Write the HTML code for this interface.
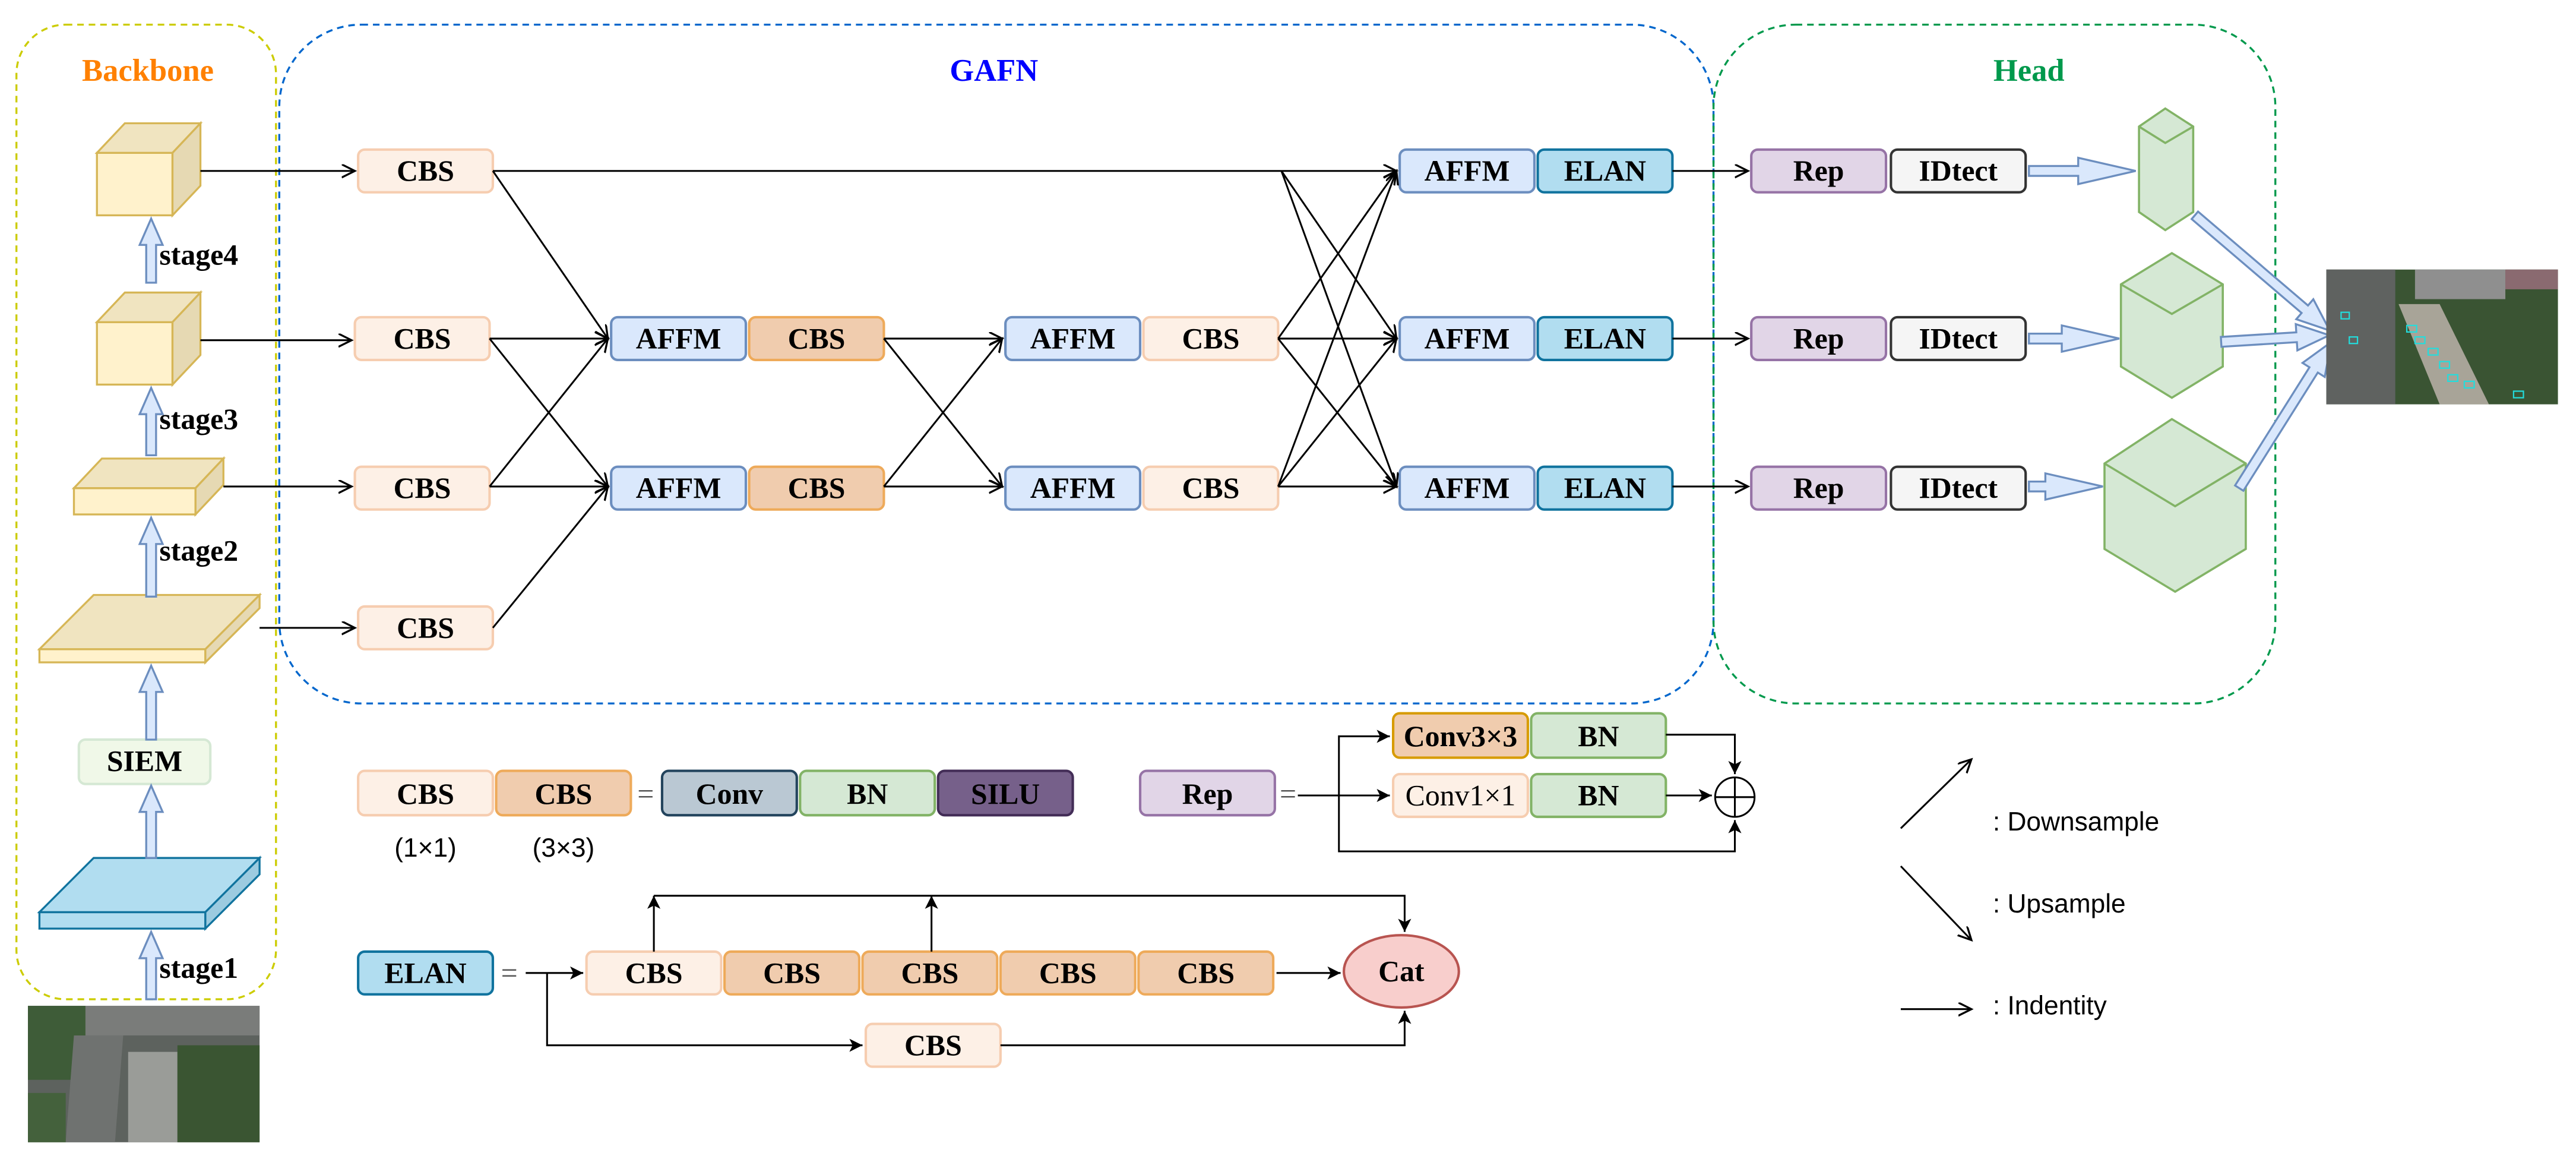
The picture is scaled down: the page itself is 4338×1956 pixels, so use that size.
<!DOCTYPE html>
<html><head><meta charset="utf-8"><style>
html,body{margin:0;padding:0;background:#fff;}
svg{display:block;}
text{font-family:"Liberation Serif",serif;font-weight:bold;font-size:18px;text-anchor:middle;dominant-baseline:central;fill:#000;}
.s{font-family:"Liberation Sans",sans-serif;font-weight:normal;text-anchor:start;font-size:16px;}
</style></head><body>
<svg width="4338" height="1956" viewBox="0 0 1568 707" xmlns="http://www.w3.org/2000/svg">
<defs>
<marker id="a" markerWidth="10" markerHeight="10" refX="8" refY="4" orient="auto" markerUnits="userSpaceOnUse"><path d="M0,0 L8,4 L0,8" fill="none" stroke="#000" stroke-width="1.2"/></marker>
<marker id="f" markerWidth="10" markerHeight="10" refX="8" refY="4" orient="auto" markerUnits="userSpaceOnUse"><path d="M0,0 L8,4 L0,8 L2,4Z" fill="#000"/></marker>
</defs>
<rect x="10" y="15" width="158" height="593" rx="30" fill="none" stroke="#cccc00" stroke-dasharray="4,3" stroke-width="1.2"/>
<rect x="170" y="15" width="873" height="413" rx="50" fill="none" stroke="#0066cc" stroke-dasharray="4,3" stroke-width="1.2"/>
<rect x="1043" y="15" width="342" height="413" rx="50" fill="none" stroke="#00994c" stroke-dasharray="4,3" stroke-width="1.2"/>
<text x="90" y="43" style="fill:#ff8000;font-size:19px">Backbone</text>
<text x="605" y="43" style="fill:#0000ff;font-size:19px">GAFN</text>
<text x="1235" y="43" style="fill:#00994c;font-size:19px">Head</text>

<g stroke="#d6b656" stroke-width="1.2">
<rect x="59" y="93" width="46" height="38" fill="#fff2cc"/>
<polygon points="59,93 76,75 122,75 105,93" fill="#f0e4c0"/>
<polygon points="105,93 122,75 122,113 105,131" fill="#e6d9b3"/>
<rect x="59" y="196" width="46" height="38" fill="#fff2cc"/>
<polygon points="59,196 76,178 122,178 105,196" fill="#f0e4c0"/>
<polygon points="105,196 122,178 122,216 105,234" fill="#e6d9b3"/>
<rect x="45" y="297" width="74" height="16" fill="#fff2cc"/>
<polygon points="45,297 62,279 136,279 119,297" fill="#f0e4c0"/>
<polygon points="119,297 136,279 136,295 119,313" fill="#e6d9b3"/>
<rect x="24" y="395" width="101" height="8" fill="#fff2cc"/>
<polygon points="24,395 57,362 158,362 125,395" fill="#f0e4c0"/>
<polygon points="125,395 158,362 158,370 125,403" fill="#e6d9b3"/>
</g>
<g stroke="#10739e" stroke-width="1.2">
<rect x="24" y="555" width="101" height="10" fill="#b1ddf0"/>
<polygon points="24,555 57,522 158,522 125,555" fill="#b1ddf0"/>
<polygon points="125,555 158,522 158,532 125,565" fill="#9ccbe0"/>
</g>
<rect x="48" y="450" width="80" height="27" rx="4" fill="#f0f8e8" stroke="#d5e8d4" stroke-width="1.5"/>
<text x="88" y="463">SIEM</text>
<g fill="#dae8fc" stroke="#6c8ebf" stroke-width="1.2">
<polygon points="89,608 89,583 85,583 92,567 99,583 95,583 95,608"/>
<polygon points="89,522 89,494 85,494 92,478 99,494 95,494 95,522"/>
<polygon points="89,450 89,421 85,421 92,405 99,421 95,421 95,450"/>
<polygon points="89,363 89,331 85,331 92,315 99,331 95,331 95,363"/>
<polygon points="89,277 89,252 85,252 92,236 99,252 95,252 95,277"/>
<polygon points="89,172 89,149 85,149 92,133 99,149 95,149 95,172"/>
</g>
<text x="121" y="155">stage4</text>
<text x="121" y="255">stage3</text>
<text x="121" y="335">stage2</text>
<text x="121" y="589">stage1</text>
<g>
<rect x="17" y="612" width="141" height="83" fill="#5d625e"/>
<rect x="17" y="612" width="141" height="18" fill="#7a7c7a"/>
<rect x="17" y="612" width="35" height="45" fill="#3e5c38"/>
<polygon points="45,630 75,630 70,695 40,695" fill="#6f7270"/>
<rect x="78" y="640" width="30" height="55" fill="#9a9c98"/>
<rect x="108" y="636" width="50" height="59" fill="#3a5532"/>
<rect x="17" y="665" width="23" height="30" fill="#44613c"/>
</g>

<g stroke-width="1.5">
<g fill="#fdf0e6" stroke="#f6cdb0">
<rect x="218" y="91" width="82" height="26" rx="4"/>
<rect x="216" y="193" width="82" height="26" rx="4"/>
<rect x="216" y="284" width="82" height="26" rx="4"/>
<rect x="218" y="369" width="82" height="26" rx="4"/>
<rect x="696" y="193" width="82" height="26" rx="4"/>
<rect x="696" y="284" width="82" height="26" rx="4"/>
<rect x="218" y="469" width="82" height="27" rx="4"/>
<rect x="848" y="471" width="82" height="26" rx="4"/>
<rect x="357" y="579" width="82" height="26" rx="4"/>
<rect x="527" y="623" width="82" height="26" rx="4"/>
</g>
<g fill="#f0ccae" stroke="#eeaa5a">
<rect x="456" y="193" width="82" height="26" rx="4"/>
<rect x="456" y="284" width="82" height="26" rx="4"/>
<rect x="302" y="469" width="82" height="27" rx="4"/>
<rect x="441" y="579" width="82" height="26" rx="4"/>
<rect x="525" y="579" width="82" height="26" rx="4"/>
<rect x="609" y="579" width="82" height="26" rx="4"/>
<rect x="693" y="579" width="82" height="26" rx="4"/>
</g>
<rect x="848" y="434" width="82" height="27" rx="4" fill="#f0ccae" stroke="#d79b00"/>
<g fill="#dae8fc" stroke="#6c8ebf">
<rect x="372" y="193" width="82" height="26" rx="4"/>
<rect x="372" y="284" width="82" height="26" rx="4"/>
<rect x="612" y="193" width="82" height="26" rx="4"/>
<rect x="612" y="284" width="82" height="26" rx="4"/>
<rect x="852" y="91" width="82" height="26" rx="4"/>
<rect x="852" y="193" width="82" height="26" rx="4"/>
<rect x="852" y="284" width="82" height="26" rx="4"/>
</g>
<g fill="#b1ddf0" stroke="#10739e">
<rect x="936" y="91" width="82" height="26" rx="4"/>
<rect x="936" y="193" width="82" height="26" rx="4"/>
<rect x="936" y="284" width="82" height="26" rx="4"/>
<rect x="218" y="579" width="82" height="26" rx="4"/>
</g>
<g fill="#e1d5e7" stroke="#9673a6">
<rect x="1066" y="91" width="82" height="26" rx="4"/>
<rect x="1066" y="193" width="82" height="26" rx="4"/>
<rect x="1066" y="284" width="82" height="26" rx="4"/>
<rect x="694" y="469" width="82" height="27" rx="4"/>
</g>
<g fill="#f5f5f5" stroke="#333">
<rect x="1151" y="91" width="82" height="26" rx="4"/>
<rect x="1151" y="193" width="82" height="26" rx="4"/>
<rect x="1151" y="284" width="82" height="26" rx="4"/>
</g>
<rect x="403" y="469" width="82" height="27" rx="4" fill="#bac8d3" stroke="#23445d"/>
<g fill="#d5e8d4" stroke="#82b366">
<rect x="487" y="469" width="82" height="27" rx="4"/>
<rect x="932" y="434" width="82" height="27" rx="4"/>
<rect x="932" y="471" width="82" height="26" rx="4"/>
</g>
<rect x="571" y="469" width="82" height="27" rx="4" fill="#76608a" stroke="#432d57"/>
<ellipse cx="853" cy="591" rx="35" ry="22" fill="#f8cecc" stroke="#b85450"/>
</g>
<text x="259" y="104">CBS</text><text x="257" y="206">CBS</text><text x="257" y="297">CBS</text><text x="259" y="382">CBS</text>
<text x="413" y="206">AFFM</text><text x="497" y="206">CBS</text>
<text x="413" y="297">AFFM</text><text x="497" y="297">CBS</text>
<text x="653" y="206">AFFM</text><text x="737" y="206">CBS</text>
<text x="653" y="297">AFFM</text><text x="737" y="297">CBS</text>
<text x="893" y="104">AFFM</text><text x="977" y="104">ELAN</text>
<text x="893" y="206">AFFM</text><text x="977" y="206">ELAN</text>
<text x="893" y="297">AFFM</text><text x="977" y="297">ELAN</text>
<text x="1107" y="104">Rep</text><text x="1192" y="104">IDtect</text>
<text x="1107" y="206">Rep</text><text x="1192" y="206">IDtect</text>
<text x="1107" y="297">Rep</text><text x="1192" y="297">IDtect</text>
<text x="259" y="483">CBS</text><text x="343" y="483">CBS</text><text x="393" y="483" style="font-weight:normal;fill:#555">=</text>
<text x="444" y="483">Conv</text><text x="528" y="483">BN</text><text x="612" y="483">SILU</text>
<text x="259" y="516" style="font-family:'Liberation Sans',sans-serif;font-weight:normal;font-size:16px">(1×1)</text>
<text x="343" y="516" style="font-family:'Liberation Sans',sans-serif;font-weight:normal;font-size:16px">(3×3)</text>
<text x="735" y="483">Rep</text><text x="784" y="483" style="font-weight:normal;fill:#555">=</text>
<text x="889" y="448">Conv3×3</text><text x="973" y="448">BN</text>
<text x="889" y="484" style="font-weight:normal">Conv1×1</text><text x="973" y="484">BN</text>
<text x="259" y="592">ELAN</text><text x="310" y="592" style="font-weight:normal;fill:#555">=</text>
<text x="398" y="592">CBS</text><text x="482" y="592">CBS</text><text x="566" y="592">CBS</text><text x="650" y="592">CBS</text><text x="734" y="592">CBS</text>
<text x="568" y="636">CBS</text><text x="853" y="591">Cat</text>

<g stroke="#000" stroke-width="1.1" fill="none" marker-end="url(#a)">
<line x1="122" y1="104" x2="216" y2="104"/>
<line x1="122" y1="207" x2="214" y2="207"/>
<line x1="136" y1="296" x2="214" y2="296"/>
<line x1="158" y1="382" x2="216" y2="382"/>
<line x1="300" y1="104" x2="850" y2="104"/>
<line x1="300" y1="104" x2="370" y2="206"/>
<line x1="298" y1="206" x2="370" y2="206"/>
<line x1="298" y1="206" x2="370" y2="296"/>
<line x1="298" y1="296" x2="370" y2="206"/>
<line x1="298" y1="296" x2="370" y2="296"/>
<line x1="300" y1="382" x2="370" y2="296"/>
<line x1="538" y1="206" x2="610" y2="206"/>
<line x1="538" y1="206" x2="610" y2="296"/>
<line x1="538" y1="296" x2="610" y2="206"/>
<line x1="538" y1="296" x2="610" y2="296"/>
<line x1="780" y1="104" x2="850" y2="206"/>
<line x1="780" y1="104" x2="850" y2="296"/>
<line x1="778" y1="206" x2="850" y2="104"/>
<line x1="778" y1="206" x2="850" y2="206"/>
<line x1="778" y1="206" x2="850" y2="296"/>
<line x1="778" y1="296" x2="850" y2="104"/>
<line x1="778" y1="296" x2="850" y2="206"/>
<line x1="778" y1="296" x2="850" y2="296"/>
<line x1="1018" y1="104" x2="1064" y2="104"/>
<line x1="1018" y1="206" x2="1064" y2="206"/>
<line x1="1018" y1="296" x2="1064" y2="296"/>
<line x1="1157" y1="504" x2="1200" y2="462"/>
<line x1="1157" y1="527" x2="1200" y2="572"/>
<line x1="1157" y1="614" x2="1200" y2="614"/>
</g>
<g stroke="#000" stroke-width="1.1" fill="none" marker-end="url(#f)">
<line x1="790" y1="484" x2="846" y2="484"/>
<polyline points="815,484 815,448 846,448"/>
<polyline points="1014,447 1056,447 1056,471"/>
<line x1="1014" y1="484" x2="1042" y2="484"/>
<polyline points="815,484 815,518 1056,518 1056,499"/>
<line x1="320" y1="592" x2="355" y2="592"/>
<line x1="777" y1="592" x2="816" y2="592"/>
<polyline points="398,579 398,545"/>
<polyline points="567,579 567,545"/>
<polyline points="398,545 855,545 855,567"/>
<polyline points="333,592 333,636 525,636"/>
<polyline points="609,636 855,636 855,615"/>
</g>
<circle cx="1056" cy="485" r="12" fill="#fff" stroke="#000" stroke-width="1.1"/>
<line x1="1044" y1="485" x2="1068" y2="485" stroke="#000" stroke-width="1.1"/>
<line x1="1056" y1="473" x2="1056" y2="497" stroke="#000" stroke-width="1.1"/>
<text class="s" x="1213" y="500">:  Downsample</text>
<text class="s" x="1213" y="550">:  Upsample</text>
<text class="s" x="1213" y="612">:  Indentity</text>

<g fill="#d5e8d4" stroke="#82b366" stroke-width="1.3">
<polygon points="1302,77 1318,66 1335,77 1335,129 1318,140 1302,129"/>
<polyline points="1302,77 1318,87 1335,77 M1318,87 1318,140" fill="none"/>
<polygon points="1291,173 1322,154 1353,173 1353,223 1322,242 1291,223"/>
<polyline points="1291,173 1322,191 1353,173 M1322,191 1322,242" fill="none"/>
<polygon points="1281,282 1322,255 1367,282 1367,334 1324,360 1281,334"/>
<polyline points="1281,282 1324,308 1367,282 M1324,308 1324,360" fill="none"/>
</g>
<g fill="#dae8fc" stroke="#6c8ebf" stroke-width="1.2">
<polygon points="1235,101 1265,101 1265,96 1300,104 1265,112 1265,107 1235,107"/>
<polygon points="1235,203 1255,203 1255,198 1290,206 1255,214 1255,209 1235,209"/>
<polygon points="1235,293 1245,293 1245,288 1280,296 1245,304 1245,299 1235,299"/>
<g transform="translate(1336,131) rotate(40.5)"><polygon points="0,-3 88,-3 88,-8 108,0 88,8 88,3 0,3"/></g>
<g transform="translate(1352,208) rotate(-3.5)"><polygon points="0,-3 46,-3 46,-8 66,0 46,8 46,3 0,3"/></g>
<g transform="translate(1363,297) rotate(-57.8)"><polygon points="0,-3 85,-3 85,-8 105,0 85,8 85,3 0,3"/></g>
</g>
<g>
<rect x="1416" y="164" width="141" height="82" fill="#3a5433"/>
<rect x="1416" y="164" width="42" height="82" fill="#5f6260"/>
<rect x="1470" y="164" width="55" height="18" fill="#8f8f8f"/>
<rect x="1525" y="164" width="32" height="12" fill="#8a6a70"/>
<polygon points="1460,185 1485,185 1515,246 1485,246" fill="#a8a498"/>
<g fill="none" stroke="#22dddd" stroke-width="0.8">
<rect x="1465" y="198" width="6" height="4"/><rect x="1470" y="205" width="6" height="4"/><rect x="1478" y="212" width="6" height="4"/><rect x="1485" y="220" width="6" height="4"/><rect x="1490" y="228" width="6" height="4"/><rect x="1425" y="190" width="5" height="4"/><rect x="1530" y="238" width="6" height="4"/><rect x="1500" y="232" width="6" height="4"/><rect x="1430" y="205" width="5" height="4"/>
</g>
</g>
</svg>
</body></html>
